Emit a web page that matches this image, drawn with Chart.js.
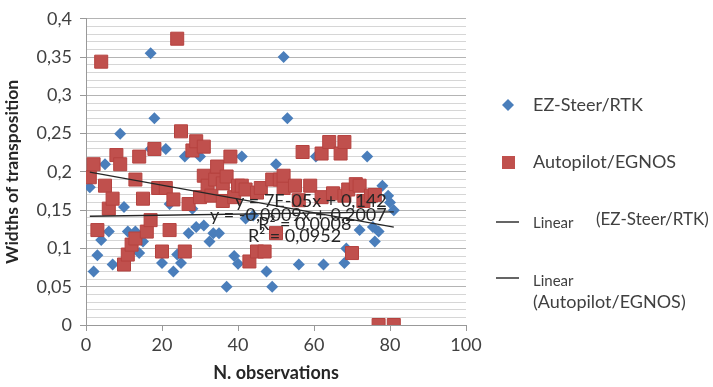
<!DOCTYPE html>
<html>
<head>
<meta charset="utf-8">
<script src="https://cdn.jsdelivr.net/npm/chart.js@4.4.1/dist/chart.umd.min.js"></script>
<style>
  html, body { margin: 0; padding: 0; background: #fff; }
  #wrap { width: 713px; height: 387px; }
</style>
</head>
<body>
<div id="wrap"><canvas id="TransGraph" width="713" height="387"></canvas></div>
<script>
'use strict';

// EZ-Steer/RTK (rombos azules)
var ezX = [1,2,3,4,5,6,7,9,10,11,13,14,15,17,17,18,20,21,22,23,24,25,26,27,28,29,30,31,32.5,33.5,35,37,39,40,41,42,44,47.5,49,50,52,53,56,60.5,62.5,68,68.5,72,74,75.5,76,77,78,79.5,81,80];
var ezY = [0.18,0.07,0.091,0.111,0.21,0.122,0.079,0.25,0.154,0.122,0.122,0.094,0.109,0.355,0.23,0.27,0.081,0.23,0.158,0.07,0.092,0.081,0.22,0.12,0.152,0.128,0.22,0.13,0.109,0.12,0.12,0.05,0.09,0.08,0.22,0.139,0.143,0.07,0.05,0.21,0.35,0.27,0.079,0.22,0.079,0.081,0.1,0.124,0.22,0.128,0.109,0.122,0.182,0.169,0.15,0.16];

// Autopilot/EGNOS (cuadros rojos)
var apX = [1,2,3,4,5,6,7,8,9,10,11,12,13,13,14,15,16,17,18,19,20,21,22,23,24,25,26,27,28,29,30,31,31,32,33,34,34.5,36,36,37,38,39,40,41,42,43,45,45,46,47,49,50,51,52,52,55,56,57,59,62,62,64,65,67,68,68,69,70,71,72,73,75,76,77,81];
var apY = [0.193,0.21,0.124,0.344,0.182,0.152,0.165,0.222,0.21,0.079,0.092,0.105,0.113,0.19,0.22,0.165,0.122,0.137,0.23,0.179,0.096,0.179,0.124,0.164,0.374,0.253,0.096,0.158,0.228,0.24,0.167,0.233,0.195,0.182,0.169,0.19,0.207,0.162,0.185,0.194,0.22,0.167,0.182,0.182,0.177,0.083,0.096,0.173,0.179,0.096,0.19,0.12,0.19,0.179,0.195,0.182,0.163,0.226,0.182,0.224,0.167,0.239,0.172,0.224,0.239,0.169,0.177,0.094,0.184,0.182,0.162,0.169,0.17,0,0];

// lineas de tendencia (pendiente, intercepto) y sus etiquetas
var trendSlope = [0.00007, -0.0009];
var trendIntercept = [0.142, 0.2007];
var eqText = ['y = 7E-05x + 0,142', 'R² = 0,0008', 'y = -0,0009x + 0,2007', 'R² = 0,0952'];
var eqAtX = [39.2, 45.3, 32.6, 42.6];
var eqAtY = [0.1615, 0.132, 0.1436, 0.1154];

var legendNames = ['EZ-Steer/RTK', 'Autopilot/EGNOS', 'Linear', '(EZ-Steer/RTK)', '(Autopilot/EGNOS)'];

var BLUE = '#4a7ebb';
var RED = '#c0504d';
var FONT = 'Lato, "Open Sans", sans-serif';

function puntos(xs, ys) {
  var out = [];
  for (var i = 0; i < xs.length; i++) {
    out.push({x: xs[i], y: ys[i]});
  }
  return out;
}

function tendencia(xs, k) {
  var lo = Math.min.apply(null, xs);
  var hi = Math.max.apply(null, xs);
  return [
    {x: lo, y: trendIntercept[k] + trendSlope[k] * lo},
    {x: hi, y: trendIntercept[k] + trendSlope[k] * hi}
  ];
}

function esMayor(v) {
  return Math.round(v * 100) % 5 === 0;
}

var extras = {
  id: 'extras',
  afterDatasetsDraw: function(chart) {
    var ctx = chart.ctx;
    var sx = chart.scales.x, sy = chart.scales.y;
    ctx.save();
    ctx.font = '18px ' + FONT;
    ctx.fillStyle = '#262626';
    ctx.textBaseline = 'middle';
    ctx.textAlign = 'left';
    for (var i = 0; i < eqText.length; i++) {
      ctx.fillText(eqText[i], sx.getPixelForValue(eqAtX[i]), sy.getPixelForValue(eqAtY[i]));
    }
    ctx.restore();
  },
  afterDraw: function(chart) {
    var ctx = chart.ctx;
    var x0 = chart.chartArea.right + 42;
    var tx = x0 + 25;
    ctx.save();
    ctx.textBaseline = 'middle';
    // rombo
    ctx.fillStyle = BLUE;
    ctx.beginPath();
    ctx.moveTo(x0 - 6, 105); ctx.lineTo(x0, 99); ctx.lineTo(x0 + 6, 105); ctx.lineTo(x0, 111);
    ctx.closePath();
    ctx.fill();
    // cuadro
    ctx.fillStyle = RED;
    ctx.fillRect(x0 - 6, 156, 13, 13);
    // lineas
    ctx.strokeStyle = '#333';
    ctx.lineWidth = 1.3;
    ctx.beginPath();
    ctx.moveTo(x0 - 12, 222); ctx.lineTo(x0 + 11, 222);
    ctx.moveTo(x0 - 12, 278); ctx.lineTo(x0 + 11, 278);
    ctx.stroke();

    ctx.fillStyle = '#404040';
    ctx.font = '18px ' + FONT;
    ctx.fillText(legendNames[0], tx, 105);
    ctx.fillText(legendNames[1], tx, 162);
    ctx.fillText(legendNames[4], tx, 302);
    ctx.font = '17px ' + FONT;
    ctx.fillText(legendNames[3], tx + 63, 220);
    ctx.font = '15px ' + FONT;
    ctx.fillText(legendNames[2], tx, 223);
    ctx.fillText(legendNames[2], tx, 281);
    ctx.restore();
  }
};

var ctx = document.getElementById('TransGraph').getContext('2d');
var myChart = new Chart(ctx, {
  type: 'scatter',
  data: {
    datasets: [{
      label: 'Linear (EZ-Steer/RTK)',
      data: tendencia(ezX, 0),
      showLine: true,
      pointRadius: 0,
      borderColor: '#262626',
      borderWidth: 1.3,
      order: 0
    }, {
      label: 'Linear (Autopilot/EGNOS)',
      data: tendencia(apX, 1),
      showLine: true,
      pointRadius: 0,
      borderColor: '#262626',
      borderWidth: 1.3,
      order: 0
    }, {
      label: 'Autopilot/EGNOS',
      data: puntos(apX, apY),
      pointStyle: 'rect',
      pointRadius: 9.2,
      pointBackgroundColor: RED,
      pointBorderColor: '#b5423f',
      pointBorderWidth: 1,
      order: 1
    }, {
      label: 'EZ-Steer/RTK',
      data: puntos(ezX, ezY),
      pointStyle: 'rectRot',
      pointRadius: 6,
      pointBackgroundColor: BLUE,
      pointBorderColor: BLUE,
      pointBorderWidth: 0,
      order: 2
    }]
  },
  options: {
    responsive: false,
    animation: false,
    devicePixelRatio: 1,
    layout: { padding: { left: 0, right: 247, top: 14, bottom: 0 } },
    plugins: {
      legend: { display: false },
      tooltip: { enabled: false }
    },
    scales: {
      x: {
        min: 0,
        max: 100,
        afterFit: function(scale) { scale.height = 62; },
        ticks: { stepSize: 20, color: '#404040', font: { family: FONT, size: 18 }, padding: 3, maxRotation: 0 },
        grid: { drawOnChartArea: false, tickLength: 6, color: '#999' },
        border: { color: '#999' },
        title: { display: true, text: 'N. observations', color: '#262626', font: { family: FONT, size: 18, weight: 'bold' }, padding: { top: 0, bottom: 3 } }
      },
      y: {
        min: 0,
        max: 0.4,
        afterFit: function(scale) { scale.width = 86; },
        ticks: {
          stepSize: 0.01,
          autoSkip: false,
          color: '#404040',
          padding: 8,
          font: { family: FONT, size: 18 },
          callback: function(v) {
            if (!esMayor(v)) return '';
            return String(Math.round(v * 100) / 100).replace('.', ',');
          }
        },
        grid: {
          tickLength: 6,
          color: function(c) { return (c.tick && esMayor(c.tick.value)) ? '#b4b4b4' : '#d6d6d6'; },
          tickColor: function(c) { return (c.tick && esMayor(c.tick.value)) ? '#999' : 'rgba(0,0,0,0)'; }
        },
        border: { color: '#999' },
        title: { display: true, text: 'Widths of transposition', color: '#262626', font: { family: FONT, size: 17.5, weight: 'bold' }, padding: { top: 2, bottom: 0 } }
      }
    }
  },
  plugins: [extras]
});
</script>
</body>
</html>
